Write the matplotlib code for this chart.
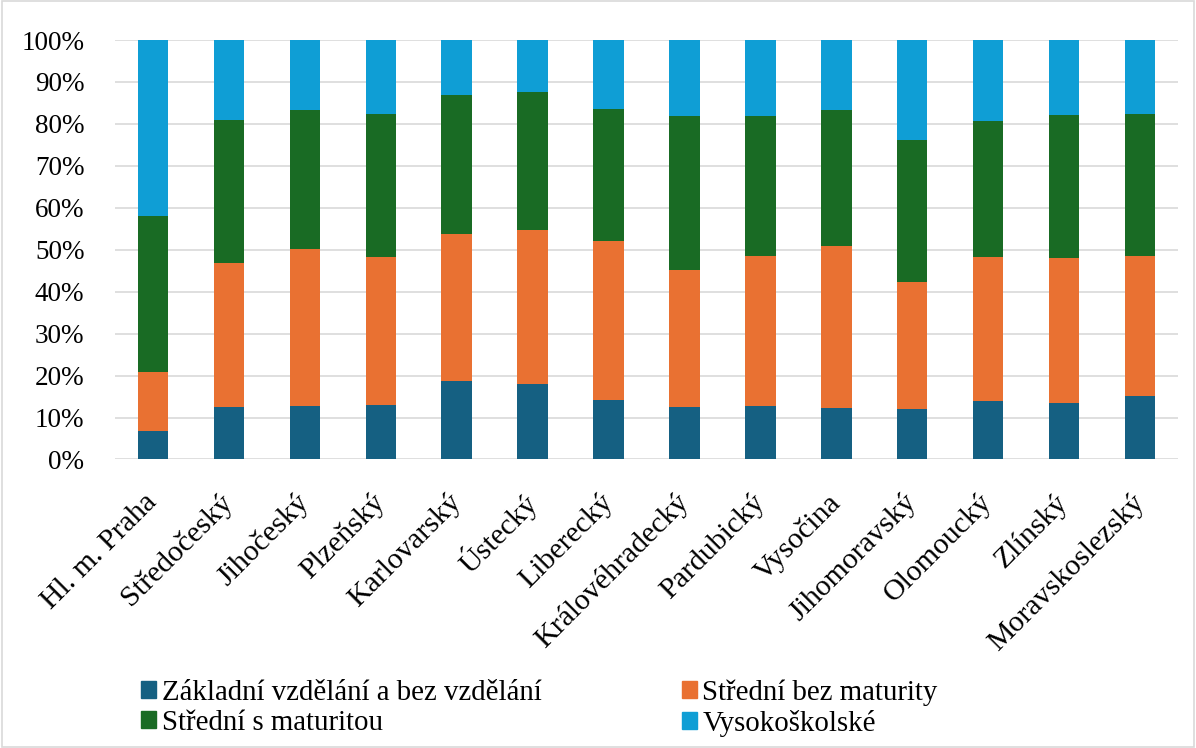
import matplotlib.pyplot as plt
import matplotlib.patches as mpatches
import numpy as np

plt.rcParams['font.family'] = ['Liberation Serif', 'DejaVu Serif']

regions = ["Hl. m. Praha", "Středočeský", "Jihočeský", "Plzeňský", "Karlovarský",
           "Ústecký", "Liberecký", "Královéhradecký", "Pardubický", "Vysočina",
           "Jihomoravský", "Olomoucký", "Zlínský", "Moravskoslezský"]

# cumulative shares (%)
zakladni = [6.9, 12.5, 12.7, 13.0, 18.6, 18.1, 14.3, 12.6, 12.7, 12.3, 12.1, 13.9, 13.5, 15.1]
bez_mat_top = [20.9, 46.9, 50.2, 48.2, 53.7, 54.8, 52.1, 45.1, 48.6, 50.9, 42.4, 48.2, 48.1, 48.6]
s_mat_top = [58.0, 80.9, 83.4, 82.3, 87.0, 87.6, 83.5, 81.9, 81.9, 83.4, 76.1, 80.7, 82.2, 82.3]

bez_mat = [b - a for a, b in zip(zakladni, bez_mat_top)]
s_mat = [c - b for b, c in zip(bez_mat_top, s_mat_top)]
vysoko = [100 - c for c in s_mat_top]

series = [
    ("Základní vzdělání a bez vzdělání", zakladni, "#156082"),
    ("Střední bez maturity", bez_mat, "#E97132"),
    ("Střední s maturitou", s_mat, "#196B24"),
    ("Vysokoškolské", vysoko, "#0F9ED5"),
]

fig = plt.figure(figsize=(11.96, 7.48), dpi=100)
ax = fig.add_axes([115 / 1196, 1 - 459.5 / 748, (1178 - 115) / 1196, (459.5 - 40) / 748])

x = np.arange(len(regions))
bottom = np.zeros(len(regions))
handles = []
for name, vals, col in series:
    ax.bar(x, vals, width=0.4, bottom=bottom, color=col, zorder=3)
    bottom += np.array(vals)
    handles.append(mpatches.Patch(color=col, label=name))

ax.set_xlim(-0.5, len(regions) - 0.5)
ax.set_ylim(0, 100)
ax.set_yticks(range(0, 101, 10))
ax.set_yticklabels([f"{v}%" for v in range(0, 101, 10)], fontsize=19.5)
ax.yaxis.grid(True, color="#D9D9D9", linewidth=1.2, zorder=0)
ax.tick_params(axis="both", length=0)
ax.tick_params(axis="y", pad=22)
for s in ax.spines.values():
    s.set_visible(False)

ax.set_xticks(x)
ax.set_xticklabels(regions, rotation=45, ha="right", va="center",
                   rotation_mode="anchor", fontsize=21.5)
ax.tick_params(axis="x", pad=28)

order = [handles[0], handles[2], handles[1], handles[3]]
fig.legend(handles=order, labels=[h.get_label() for h in order], ncol=2,
           loc="upper left", bbox_to_anchor=(141 / 1196, 1 - 679 / 748),
           frameon=False, fontsize=20.8, handlelength=0.52, handleheight=0.52,
           handletextpad=0.2, labelspacing=0.16, columnspacing=4.85, borderpad=0,
           borderaxespad=0)

fig.patches.append(mpatches.Rectangle((0.002, 0.002), 0.996, 0.996, transform=fig.transFigure,
                                      fill=False, edgecolor="#D9D9D9", linewidth=1.2))

fig.savefig("out.png", dpi=100)
